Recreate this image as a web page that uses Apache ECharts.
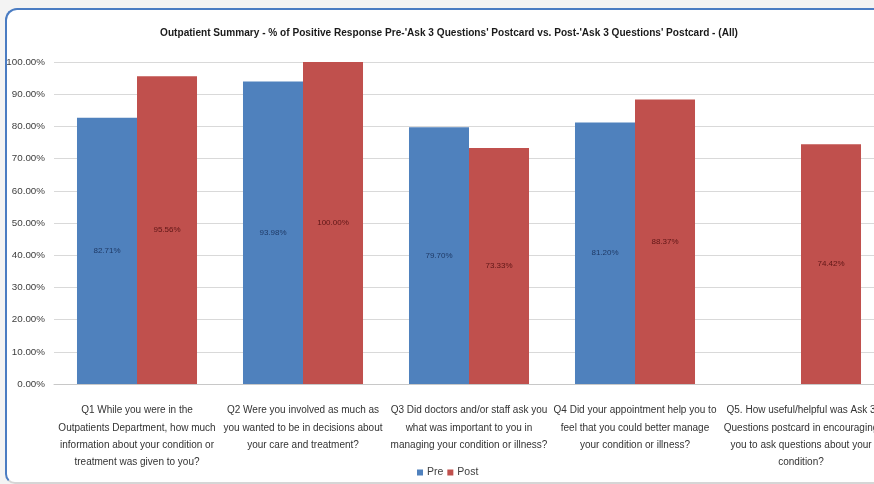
<!DOCTYPE html>
<html>
<head>
<meta charset="utf-8">
<script src="https://cdn.jsdelivr.net/npm/echarts@6/dist/echarts.min.js"></script>
<style>
  html, body { margin: 0; padding: 0; width: 874px; height: 484px; overflow: hidden; background: #f3f3f3; }
  #frame {
    position: absolute; left: 5px; top: 8px; width: 920px; height: 472px;
    background: #ffffff; border-left: 2px solid #4a7cc2; border-top: 2px solid #4a7cc2;
    border-bottom: 2px solid #d6d6d6; border-radius: 12px 0 0 10px;
  }
  #chart { position: absolute; left: 0; top: 0; width: 900px; height: 484px; }
</style>
</head>
<body>
<div id="frame"></div>
<div id="chart"></div>
<script>
// Questions asked in the outpatient survey
const categories = [
  "Q1 While you were in the\nOutpatients Department, how much\ninformation about your condition or\ntreatment was given to you?",
  "Q2 Were you involved as much as\nyou wanted to be in decisions about\nyour care and treatment?",
  "Q3 Did doctors and/or staff ask you\nwhat was important to you in\nmanaging your condition or illness?",
  "Q4 Did your appointment help you to\nfeel that you could better manage\nyour condition or illness?",
  "Q5. How useful/helpful was Ask 3\nQuestions postcard in encouraging\nyou to ask questions about your\ncondition?"
];
// % positive responses before and after the postcard
const preValues = [82.71, 93.98, 79.70, 81.20, null];
const postValues = [95.56, 100.00, 73.33, 88.37, 74.42];
const seriesNames = ["Pre", "Post"];
const yTicks = { min: 0, max: 100, interval: 10 };

const FONT = "'Liberation Sans', Arial, sans-serif";

const chart = echarts.init(document.getElementById('chart'));
chart.setOption({
  backgroundColor: 'transparent',
  animation: false,
  title: {
    text: "Outpatient Summary - % of Positive Response Pre-'Ask 3 Questions' Postcard vs. Post-'Ask 3 Questions' Postcard - (All)",
    left: 444, top: 23, textAlign: 'center',
    textStyle: { fontFamily: FONT, fontSize: 10.1, fontWeight: 'bold', color: '#1a1a1a' }
  },
  legend: {
    data: seriesNames,
    left: 412, top: 462,
    itemWidth: 6, itemHeight: 6, itemGap: 4,
    icon: 'rect',
    textStyle: { fontFamily: FONT, fontSize: 10.5, color: '#404040', padding: [0, 0, 0, -1] }
  },
  grid: { left: 54, top: 62, right: 16, bottom: 100 },
  xAxis: {
    type: 'category',
    data: categories,
    axisLine: { lineStyle: { color: '#c8c8c8' } },
    axisTick: { show: false },
    axisLabel: {
      interval: 0, margin: 18,
      fontFamily: FONT, fontSize: 10, lineHeight: 17.3, color: '#333333', align: 'center'
    }
  },
  yAxis: {
    type: 'value',
    min: yTicks.min, max: yTicks.max, interval: yTicks.interval,
    axisLine: { show: false },
    axisTick: { show: false },
    axisLabel: {
      margin: 9, fontFamily: FONT, fontSize: 9.8, color: '#404040',
      formatter: v => v.toFixed(2) + '%'
    },
    splitLine: { lineStyle: { color: '#d9d9d9' } }
  },
  series: [
    {
      name: seriesNames[0], type: 'bar', data: preValues,
      barGap: '0%', barCategoryGap: '27.7%',
      itemStyle: { color: '#4f81bd' },
      label: {
        show: true, position: 'inside',
        fontFamily: FONT, fontSize: 8, color: '#1f3a66',
        formatter: p => p.value.toFixed(2) + '%'
      }
    },
    {
      name: seriesNames[1], type: 'bar', data: postValues,
      barGap: '0%', barCategoryGap: '27.7%',
      itemStyle: { color: '#c0504d' },
      label: {
        show: true, position: 'inside',
        fontFamily: FONT, fontSize: 8, color: '#5e1616',
        formatter: p => p.value.toFixed(2) + '%'
      }
    }
  ]
});
</script>
</body>
</html>
